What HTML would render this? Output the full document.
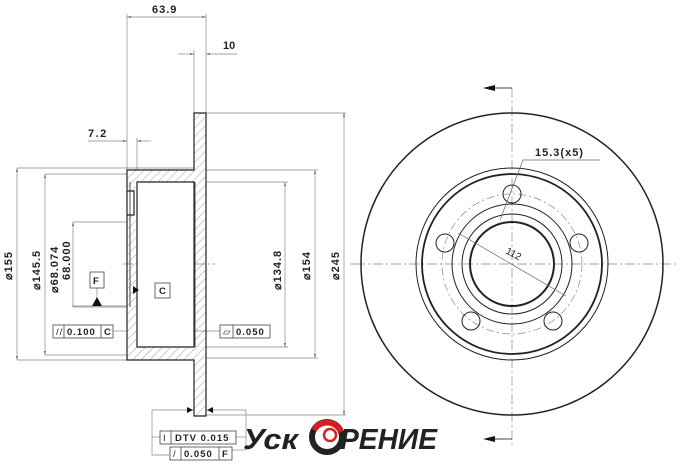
<!DOCTYPE html>
<html><head><meta charset="utf-8"><style>
html,body{margin:0;padding:0;background:#fff;}
svg{display:block;}
text{font-family:"Liberation Sans",sans-serif;}
</style></head><body>
<svg width="680" height="465" viewBox="0 0 680 465" xmlns="http://www.w3.org/2000/svg">
<defs>
<pattern id="h" width="6" height="6" patternUnits="userSpaceOnUse" patternTransform="rotate(45)">
<line x1="0" y1="0" x2="0" y2="6" stroke="#777" stroke-width="0.7"/></pattern>
<marker id="a" markerWidth="6" markerHeight="6" refX="6" refY="3" orient="auto-start-reverse"><path d="M0,1.5L6,3L0,4.5z" fill="#666"/></marker>
</defs>
<g stroke="#888" stroke-width="0.7" fill="none">
<line x1="127" y1="14" x2="127" y2="170"/><line x1="206" y1="14" x2="206" y2="113"/>
<line x1="127" y1="17" x2="206" y2="17" marker-start="url(#a)" marker-end="url(#a)"/>
<line x1="194" y1="50" x2="194" y2="113"/>
<line x1="178" y1="54" x2="194" y2="54" marker-end="url(#a)"/><line x1="237" y1="54" x2="206" y2="54" marker-end="url(#a)"/>
<line x1="88" y1="141" x2="124" y2="141"/><line x1="124" y1="141" x2="127" y2="141" marker-end="url(#a)"/>
<line x1="151" y1="141" x2="137" y2="141" marker-end="url(#a)"/><line x1="137" y1="138" x2="137" y2="170"/>
<line x1="17" y1="168" x2="194" y2="168"/><line x1="45" y1="174" x2="127" y2="174"/>
<line x1="17" y1="360" x2="194" y2="360"/><line x1="45" y1="355" x2="127" y2="355"/>
<line x1="206" y1="113" x2="346" y2="113"/><line x1="206" y1="170" x2="318" y2="170"/>
<line x1="206" y1="182" x2="288" y2="182"/><line x1="206" y1="347" x2="288" y2="347"/>
<line x1="206" y1="358" x2="318" y2="358"/><line x1="206" y1="415" x2="346" y2="415"/>
<line x1="73" y1="222" x2="127" y2="222"/><line x1="73" y1="307" x2="127" y2="307"/>
<line x1="17" y1="168" x2="17" y2="360" marker-start="url(#a)" marker-end="url(#a)"/>
<line x1="45" y1="174" x2="45" y2="355" marker-start="url(#a)" marker-end="url(#a)"/>
<line x1="73" y1="222" x2="73" y2="307" marker-start="url(#a)"/>
<line x1="285" y1="182" x2="285" y2="347" marker-start="url(#a)" marker-end="url(#a)"/>
<line x1="315" y1="170" x2="315" y2="358" marker-start="url(#a)" marker-end="url(#a)"/>
<line x1="344" y1="113" x2="344" y2="415" marker-start="url(#a)" marker-end="url(#a)"/>
<line x1="123" y1="264" x2="215" y2="264" stroke-dasharray="10,3,2,3"/>
<line x1="350" y1="264" x2="360" y2="264" stroke-dasharray="6,3"/>
<line x1="113" y1="331" x2="127" y2="331"/><line x1="140" y1="331" x2="220" y2="331"/>
<line x1="152" y1="410" x2="194" y2="410"/><line x1="206" y1="410" x2="246" y2="410"/>
<line x1="152" y1="410" x2="152" y2="455"/><line x1="246" y1="410" x2="246" y2="450"/>
<line x1="152" y1="437" x2="160" y2="437"/><line x1="152" y1="455" x2="170" y2="455"/>
<line x1="236" y1="437" x2="246" y2="437"/><line x1="232" y1="450" x2="246" y2="450"/>
<line x1="72" y1="306" x2="127" y2="306"/>
<line x1="97" y1="288" x2="97" y2="300"/><line x1="140" y1="290" x2="155" y2="290"/>
</g>
<path d="M194,113 H206 V416 H194 V360 H127 V170 H194 Z" fill="url(#h)" stroke="none"/>
<path d="M137,182 H194 V347 H137 Z" fill="#fff"/>
<path d="M127,191 H137 V215 H127 Z" fill="#fff"/>
<g stroke="#222" stroke-width="1.2" fill="none">
<path d="M194,113 H206 V416 H194 V360 H127 V170 H194 Z"/>
<path d="M137,182 H194 V347 H137 Z"/>
<line x1="195" y1="182" x2="195" y2="347" stroke-width="0.8"/>
<line x1="130" y1="182" x2="130" y2="307" stroke-width="0.8"/>
<path d="M127,191 H134 V215 H127"/>
</g>
<g fill="#222" font-size="11" font-weight="bold">
<text x="152" y="13" letter-spacing="1">63.9</text>
<text x="223" y="49">10</text>
<text x="88" y="137" letter-spacing="1.5">7.2</text>
<text transform="translate(12,280) rotate(-90)" letter-spacing="1">⌀155</text>
<text transform="translate(40,290) rotate(-90)" letter-spacing="1">⌀145.5</text>
<text transform="translate(58,293) rotate(-90)" letter-spacing="1">⌀68.074</text>
<text transform="translate(70,280) rotate(-90)" letter-spacing="1">68.000</text>
<text transform="translate(281,290) rotate(-90)" letter-spacing="1">⌀134.8</text>
<text transform="translate(310,280) rotate(-90)" letter-spacing="1">⌀154</text>
<text transform="translate(339,280) rotate(-90)" letter-spacing="1">⌀245</text>
</g>
<g stroke="#444" stroke-width="0.8" fill="#fff" font-size="10">
<rect x="90" y="272" width="14" height="16"/><rect x="155" y="283" width="15" height="15"/>
<rect x="53" y="325" width="60" height="13"/><line x1="64" y1="325" x2="64" y2="338"/><line x1="101" y1="325" x2="101" y2="338"/>
<rect x="220" y="325" width="50" height="13"/><line x1="233" y1="325" x2="233" y2="338"/>
<rect x="160" y="431" width="76" height="13"/><line x1="171" y1="431" x2="171" y2="444"/>
<rect x="170" y="447" width="62" height="13"/><line x1="181" y1="447" x2="181" y2="460"/><line x1="219" y1="447" x2="219" y2="460"/>
</g>
<path d="M92,306 L97,297 L102,306z" fill="#111"/>
<path d="M139,290 L133,286 L133,294z" fill="#111"/>
<path d="M193,410 L187,407 L187,413z" fill="#111"/><path d="M207,410 L213,407 L213,413z" fill="#111"/>
<g fill="#222" font-size="9.5" font-weight="bold" letter-spacing="1">
<text x="93" y="284">F</text><text x="159" y="294">C</text>
<text x="56" y="335" font-weight="normal">//</text><text x="67" y="335">0.100</text><text x="104" y="335">C</text>
<text x="223" y="335" font-weight="normal">▱</text><text x="236" y="335">0.050</text>
<text x="163" y="441" font-weight="normal">I</text><text x="175" y="441">DTV 0.015</text>
<text x="173" y="457" font-weight="normal">/</text><text x="184" y="457">0.050</text><text x="222" y="457">F</text>
</g>
<g fill="none" stroke="#222">
<line x1="512" y1="88" x2="512" y2="445" stroke="#888" stroke-width="0.7" stroke-dasharray="10,3,2,3"/>
<line x1="355" y1="264" x2="678" y2="264" stroke="#888" stroke-width="0.7" stroke-dasharray="10,3,2,3"/>
<circle cx="512" cy="264" r="151" stroke-width="1.5"/>
<circle cx="512" cy="264" r="96" stroke-width="1"/>
<circle cx="512" cy="264" r="90" stroke-width="1.8"/>
<circle cx="512" cy="264" r="70" stroke="#888" stroke-width="0.7" stroke-dasharray="8,3,2,3"/>
<circle cx="512" cy="264" r="60" stroke-width="1"/>
<circle cx="512" cy="264" r="50" stroke-width="1"/>
<circle cx="512" cy="264" r="42" stroke-width="2"/>
<g stroke-width="1">
<circle cx="512" cy="194" r="9"/><circle cx="579" cy="243" r="9"/><circle cx="553" cy="321" r="9"/>
<circle cx="471" cy="321" r="9"/><circle cx="445" cy="243" r="9"/>
</g>
<line x1="458" y1="233" x2="566" y2="296" stroke="#666" stroke-width="0.7"/>
<path d="M500,220 L523,160 H600" stroke="#666" stroke-width="0.7"/>
<path d="M512,88 H490 M512,439 H490" stroke="#444" stroke-width="1"/>
</g>
<path d="M483,88 L495,85 L495,91z M483,439 L495,436 L495,442z" fill="#111"/>
<text x="535" y="156" font-size="11" font-weight="bold" fill="#222" letter-spacing="1">15.3(x5)</text>
<text transform="translate(505,253) rotate(28)" font-size="10" fill="#222">112</text>
<text x="243" y="449" font-size="29" font-weight="bold" font-style="italic" fill="#222" textLength="55" lengthAdjust="spacingAndGlyphs">Уск</text>
<circle cx="327" cy="437" r="15" fill="none" stroke="#222" stroke-width="6"/>
<path d="M314,430 A15,15 0 0 1 341,432" fill="none" stroke="#d42020" stroke-width="6"/>
<circle cx="330" cy="435" r="6" fill="none" stroke="#d42020" stroke-width="2.5"/>
<text x="340" y="449" font-size="29" font-weight="bold" font-style="italic" fill="#222" textLength="97" lengthAdjust="spacingAndGlyphs">РЕНИЕ</text>
</svg>
</body></html>
